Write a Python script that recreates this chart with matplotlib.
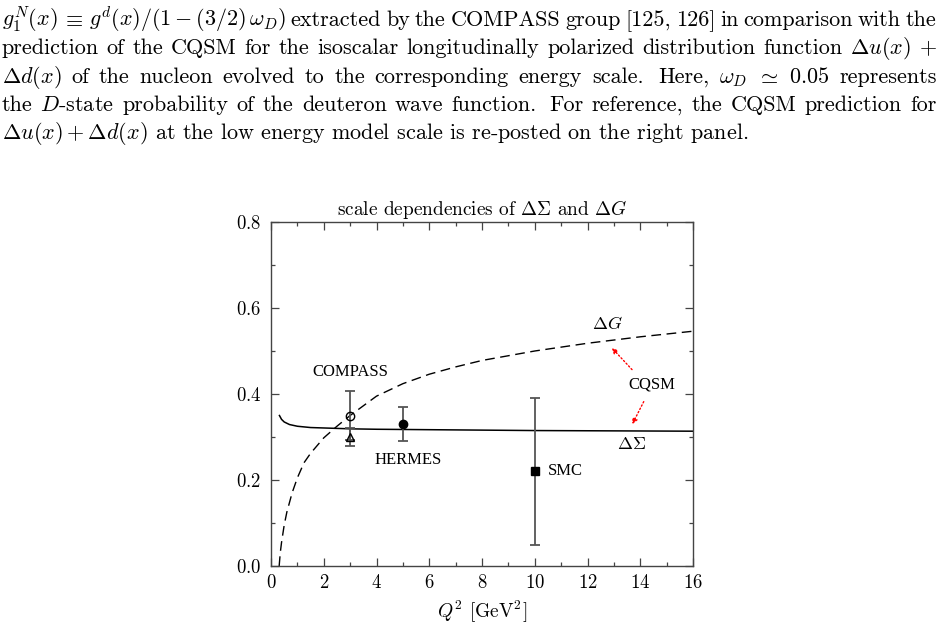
import matplotlib
matplotlib.use('Agg')
import matplotlib.pyplot as plt
from matplotlib.ticker import MultipleLocator
from matplotlib.transforms import IdentityTransform

plt.rcParams['mathtext.fontset'] = 'cm'
plt.rcParams['font.family'] = 'cmr10'
plt.rcParams['axes.formatter.use_mathtext'] = True

# --- data ---
q2_sigma = [0.32, 0.4, 0.5, 0.7, 1.0, 1.5, 2.0, 3.0, 4.0, 6.0, 8.0, 10.0, 12.0, 14.0, 16.0]
dsigma = [0.350, 0.341, 0.335, 0.329, 0.325, 0.322, 0.321, 0.319, 0.318, 0.317, 0.316, 0.315, 0.3145, 0.314, 0.3135]

q2_g = [0.31, 0.35, 0.4, 0.5, 0.6, 0.8, 1.0, 1.25, 1.5, 2.0, 2.5, 3.0, 4.0, 5.0, 6.0, 7.0, 8.0, 10.0, 12.0, 14.0, 16.0]
dg = [0.0, 0.03, 0.055, 0.095, 0.125, 0.17, 0.205, 0.24, 0.262, 0.298, 0.325, 0.350, 0.395, 0.424, 0.446,
      0.463, 0.478, 0.500, 0.518, 0.533, 0.546]

exp_names = ['COMPASS', 'COMPASS (MS)', 'HERMES', 'SMC']
exp_q2 = [3.0, 3.0, 5.0, 10.0]
exp_val = [0.35, 0.30, 0.33, 0.22]
exp_err = [0.058, 0.022, 0.04, 0.17]
exp_marker = ['o', '^', 'o', 's']
exp_fill = ['none', 'none', 'black', 'black']

paragraph = [
    "$g_1^N(x)$ $\\equiv$ $g^d(x)/(1-(3/2)\\,\\omega_D)$ extracted by the COMPASS group [125, 126] in comparison with the",
    "prediction of the CQSM for the isoscalar longitudinally polarized distribution function $\\Delta{u}(x)$ $+$",
    "$\\Delta{d}(x)$ of the nucleon evolved to the corresponding energy scale. Here, $\\omega_D$ $\\simeq$ $0.05$ represents",
    "the $D$-state probability of the deuteron wave function. For reference, the CQSM prediction for",
    "$\\Delta{u}(x)+\\Delta{d}(x)$ at the low energy model scale is re-posted on the right panel.",
]
baselines = [26, 54.5, 83, 111, 139]

W, H = 944, 626
fig = plt.figure(figsize=(W / 100, H / 100), dpi=100)
renderer = fig.canvas.get_renderer()

# paragraph text, justified like the page it came from
probe = fig.text(0, 0, paragraph[-1], fontsize=16, transform=IdentityTransform())
fs = 16 * 747 / probe.get_window_extent(renderer).width
probe.remove()

for line, b in zip(paragraph, baselines):
    yb = H - b
    if line is paragraph[-1]:
        fig.text(1.5, yb, line, fontsize=fs, va='baseline', transform=IdentityTransform())
        continue
    words = line.split(' ')
    texts = [fig.text(0, yb, w, fontsize=fs, va='baseline', transform=IdentityTransform()) for w in words]
    widths = [t.get_window_extent(renderer).width for t in texts]
    weights = [1.5 if w.endswith('.') else 1.0 for w in words[:-1]]
    gap = (936.5 - 1.5 - sum(widths)) / sum(weights)
    x = 1.5
    for i, t in enumerate(texts):
        t.set_x(x)
        if i < len(weights):
            x += widths[i] + gap * weights[i]

# --- chart ---
ax = fig.add_axes([271 / W, 1 - 566 / H, 422 / W, 344 / H])
ax.plot(q2_sigma, dsigma, color='black', lw=1.1)
ax.plot(q2_g, dg, color='black', lw=1.0, ls=(0, (7, 4)))

for q, v, e, m, f in zip(exp_q2, exp_val, exp_err, exp_marker, exp_fill):
    ax.errorbar(q, v, yerr=e, fmt='none', ecolor='#555555', elinewidth=1.3, capsize=3.5, capthick=1.3)
    ax.plot(q, v, marker=m, ms=6, mfc=f, mec='black', mew=1.0, ls='none')

lab = dict(family='Liberation Serif', fontsize=12)
ax.text(3.0, 0.452, 'COMPASS', ha='center', va='center', **lab)
ax.text(5.2, 0.246, 'HERMES', ha='center', va='center', **lab)
ax.text(10.5, 0.222, 'SMC', ha='left', va='center', **lab)
ax.text(14.43, 0.421, 'CQSM', ha='center', va='center', **lab)
ax.text(12.76, 0.563, '$\\Delta G$', ha='center', va='center', fontsize=13)
ax.text(13.67, 0.283, '$\\Delta\\Sigma$', ha='center', va='center', fontsize=13)

arrow = dict(arrowstyle='-|>', color='red', lw=1.0, ls=':', mutation_scale=8)
ax.annotate('', xy=(12.85, 0.512), xytext=(13.76, 0.452), arrowprops=arrow)
ax.annotate('', xy=(13.65, 0.324), xytext=(14.18, 0.388), arrowprops=arrow)

ax.set_xlim(0, 16)
ax.set_ylim(0, 0.8)
ax.xaxis.set_major_locator(MultipleLocator(2))
ax.xaxis.set_minor_locator(MultipleLocator(1))
ax.yaxis.set_major_locator(MultipleLocator(0.2))
ax.yaxis.set_minor_locator(MultipleLocator(0.1))
ax.tick_params(which='both', direction='in', top=True, right=True, color='#444444', width=0.9)
ax.tick_params(which='major', length=6, labelsize=13.5)
ax.tick_params(which='minor', length=3)
ax.tick_params(axis='y', pad=7)
ax.tick_params(axis='x', pad=6)
for s in ax.spines.values():
    s.set_color('#444444')
    s.set_linewidth(1.0)

ax.set_title('scale dependencies of $\\Delta\\Sigma$ and $\\Delta G$', fontsize=13.9, pad=5)
ax.set_xlabel('$Q^2$ [GeV$^2$]', fontsize=14, labelpad=5)

fig.savefig('out.png', dpi=100)
